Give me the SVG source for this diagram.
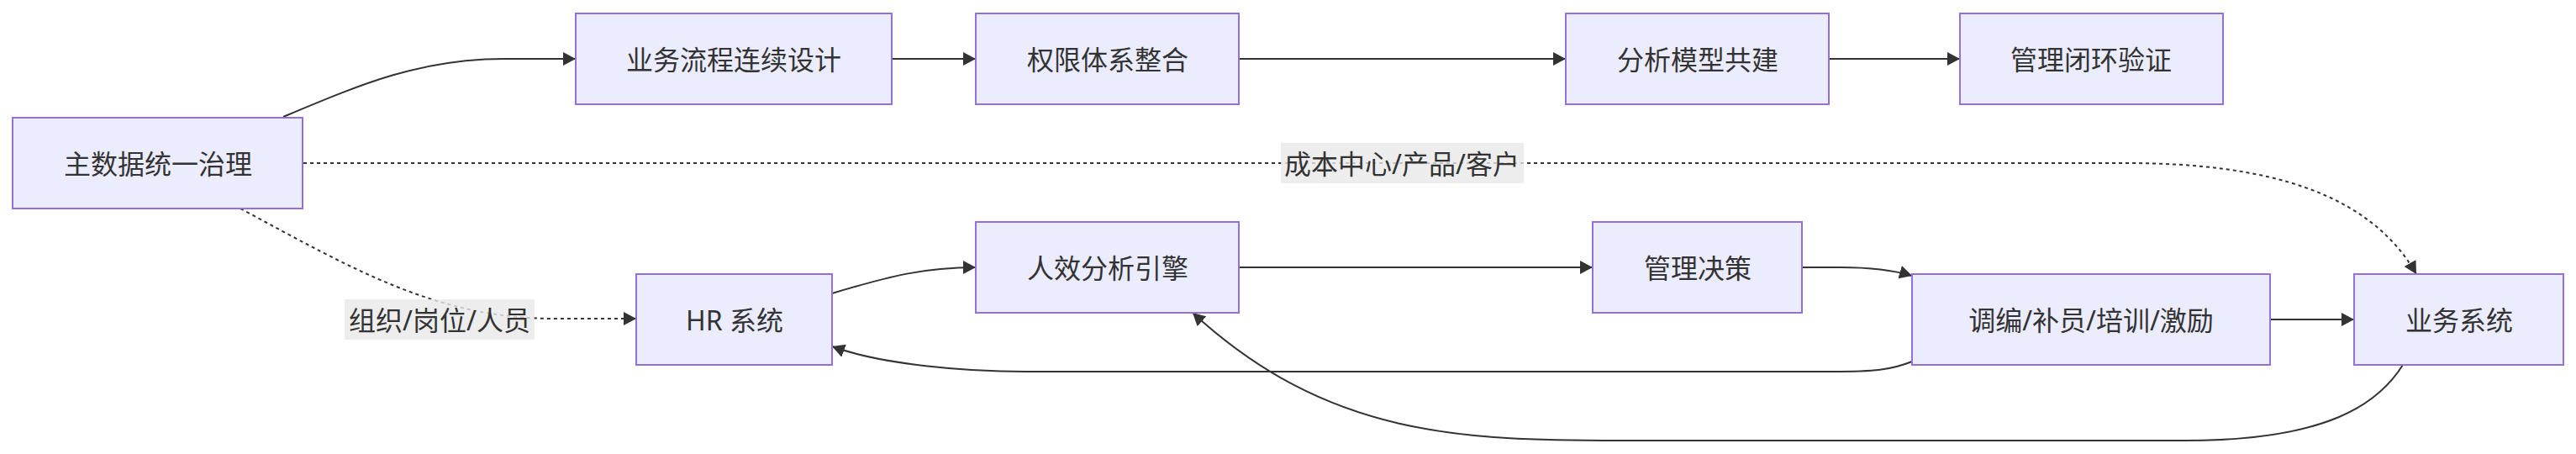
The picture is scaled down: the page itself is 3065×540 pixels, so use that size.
<svg xmlns="http://www.w3.org/2000/svg" width="3065" height="540" viewBox="0 0 3065 540">
<style>
.node rect{fill:#ECECFF;stroke:#9370DB;stroke-width:2}
.node text,.elabel text{font-family:"Noto Sans","Noto Sans CJK SC",sans-serif;font-size:32px;fill:#333333;text-anchor:middle;dominant-baseline:central}
.edge{fill:none;stroke:#333333;stroke-width:2}
.dotted{stroke-dasharray:4 4}
.elabel rect{fill:#e8e8e8;fill-opacity:0.8}
</style>
<defs>
<marker id="arrow" viewBox="0 0 15 16" refX="15" refY="8" markerWidth="15" markerHeight="16" markerUnits="userSpaceOnUse" orient="auto">
<path d="M0,0 L15,8 L0,16 z" fill="#333333"/>
</marker>
</defs>
<rect width="3065" height="540" fill="#ffffff"/>
<g id="connectors">
<path class="edge" d="M337,139 C430,100 500,70 600,70 L685,70" marker-end="url(#arrow)"/>
<path class="edge" d="M1061,70 L1161,70" marker-end="url(#arrow)"/>
<path class="edge" d="M1474,70 L1863,70" marker-end="url(#arrow)"/>
<path class="edge" d="M2176,70 L2332,70" marker-end="url(#arrow)"/>
<path class="edge dotted" d="M361,194 L2530,194 C2700,194 2820,230 2875,326" marker-end="url(#arrow)"/>
<path class="edge dotted" d="M286,248 C420,320 520,379 660,379 L757,379" marker-end="url(#arrow)"/>
<path class="edge" d="M990,349 C1060,328 1100,318 1161,318" marker-end="url(#arrow)"/>
<path class="edge" d="M1474,318 L1895,318" marker-end="url(#arrow)"/>
<path class="edge" d="M2144,318 L2190,318 C2230,318 2255,322 2275,328" marker-end="url(#arrow)"/>
<path class="edge" d="M2701,380 L2801,380" marker-end="url(#arrow)"/>
<path class="edge" d="M2275,430 C2250,440 2230,442 2180,442 L1220,442 C1150,442 1050,434 990,412" marker-end="url(#arrow)"/>
<path class="edge" d="M2859,434 C2830,480 2770,524 2600,524 L1930,524 C1740,524 1580,520 1419,372" marker-end="url(#arrow)"/>
<g class="elabel" id="label-cost">
<rect x="1524" y="170" width="289" height="48"/>
<text x="1668" y="194">成本中心/产品/客户</text>
</g>
<g class="elabel" id="label-org">
<rect x="410" y="356" width="226" height="48"/>
<text x="523" y="380">组织/岗位/人员</text>
</g>
</g>
<g class="node" id="n-master"><rect x="15" y="140" width="345" height="108"/><text x="188" y="194">主数据统一治理</text></g>
<g class="node" id="n-process"><rect x="685" y="16" width="376" height="108"/><text x="873" y="70">业务流程连续设计</text></g>
<g class="node" id="n-perm"><rect x="1161" y="16" width="313" height="108"/><text x="1318" y="70">权限体系整合</text></g>
<g class="node" id="n-model"><rect x="1863" y="16" width="313" height="108"/><text x="2020" y="70">分析模型共建</text></g>
<g class="node" id="n-verify"><rect x="2332" y="16" width="313" height="108"/><text x="2488" y="70">管理闭环验证</text></g>
<g class="node" id="n-hr"><rect x="757" y="326" width="233" height="108"/><text x="874" y="380">HR 系统</text></g>
<g class="node" id="n-engine"><rect x="1161" y="264" width="313" height="108"/><text x="1318" y="318">人效分析引擎</text></g>
<g class="node" id="n-decision"><rect x="1895" y="264" width="249" height="108"/><text x="2020" y="318">管理决策</text></g>
<g class="node" id="n-action"><rect x="2275" y="326" width="426" height="108"/><text x="2488" y="380">调编/补员/培训/激励</text></g>
<g class="node" id="n-biz"><rect x="2801" y="326" width="249" height="108"/><text x="2926" y="380">业务系统</text></g>
</svg>
